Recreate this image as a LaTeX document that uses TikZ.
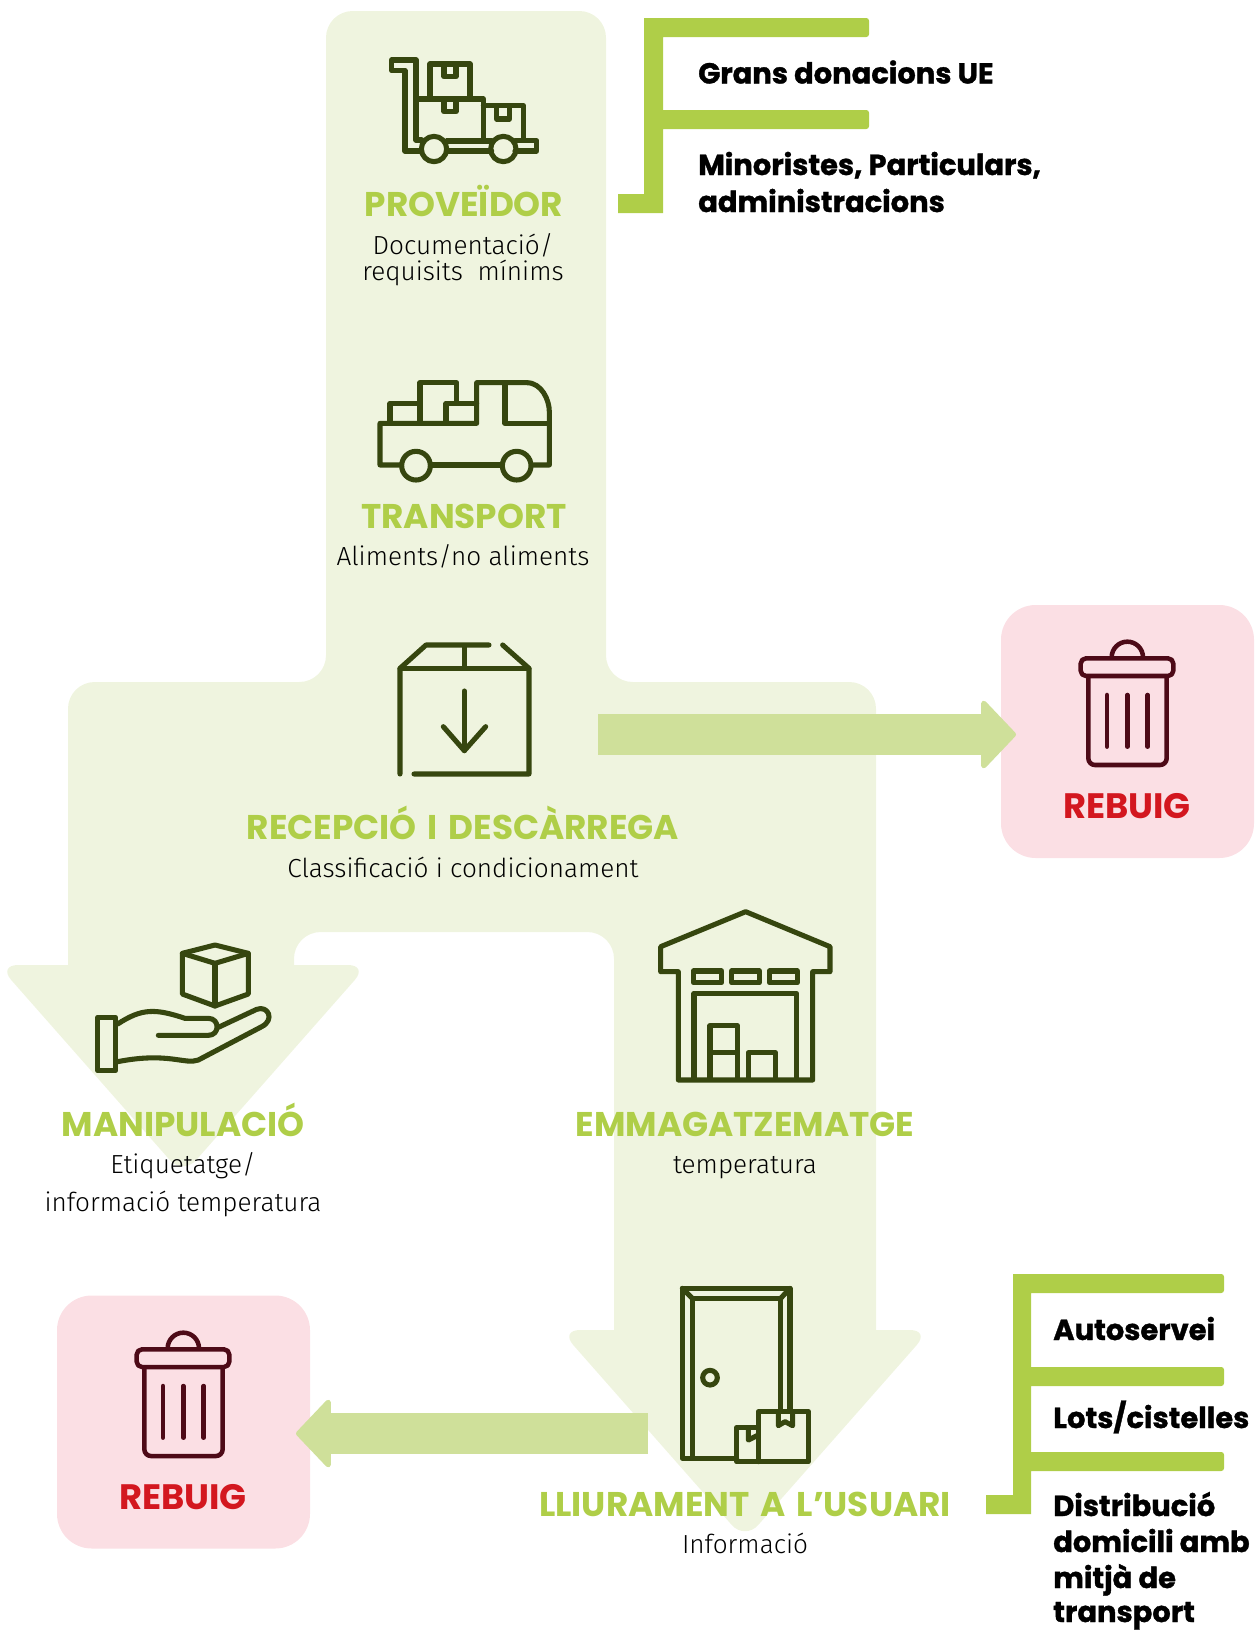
\documentclass[tikz,border=0pt]{standalone}
\usepackage{fontspec}
\usepackage{tikz}
\usetikzlibrary{arrows.meta}
\newfontfamily\titlefont{Poppins}[BoldFont=* Bold,WordSpace=1.5]
\newfontfamily\heavyfont{Poppins}[BoldFont=* Bold,BoldFeatures={FakeBold=1.2}]
\newfontfamily\thinfont{Fira Sans}[UprightFont=* Light]
\definecolor{palegreen}{HTML}{EFF4DF}
\definecolor{midgreen}{HTML}{CFE09A}
\definecolor{limegreen}{HTML}{AFCE48}
\definecolor{icondark}{HTML}{36460F}
\definecolor{pinkbg}{HTML}{FBDFE4}
\definecolor{rejectred}{HTML}{D3171F}
\definecolor{bindark}{HTML}{4D0A17}
\tikzset{
  title/.style={anchor=base,inner sep=0pt,text=limegreen,font=\titlefont\bfseries\fontsize{25.7}{25.7}\selectfont},
  note/.style={anchor=base,inner sep=0pt,text=black,font=\thinfont\fontsize{19.6}{19.6}\selectfont},
  rebuig/.style={anchor=base,inner sep=0pt,text=rejectred,font=\titlefont\bfseries\fontsize{26.5}{26.5}\selectfont},
  channel/.style={anchor=base west,inner sep=0pt,text=black,font=\heavyfont\bfseries\fontsize{21.7}{21.7}\selectfont},
  pinkbox/.style={fill=pinkbg,minimum width=189.75pt,minimum height=189.75pt,rounded corners=26pt,inner sep=0pt},
  flow/.style={draw=midgreen,line width=30.75pt,-{Triangle[length=27pt,width=56pt,round,line width=4pt]}},
  icon/.style={x=.25pt,y=-.25pt,draw=icondark,line width=3.8pt,line join=round,line cap=round},
  binicon/.style={x=.25pt,y=-.25pt,draw=bindark,line width=3.4pt,line join=round,line cap=round}
}
\newcommand{\trashbin}[2]{
\begin{scope}[shift={(#1,#2)},binicon]
\draw [rounded corners=4pt] (62,85) rectangle (340,138);
\draw (155,82) arc (180:360:47);
\draw [rounded corners=5pt] (85,140) -- (85,405) -- (320,405) -- (320,140);
\draw (141,195) -- (141,350);
\draw (202,195) -- (202,350);
\draw (263,195) -- (263,350);
\end{scope}
}
\begin{document}
\begin{tikzpicture}[x=.75pt,y=-.75pt]
\useasboundingbox (0,0) rectangle (1255,1632);
% background flow
\fill [palegreen] (326,300) [rounded corners=20pt] -- (326,11) -- (606,11) -- (606,682) -- (876,682) [sharp corners] -- (876,1330)
  [rounded corners=15pt] -- (930,1330) -- (745,1540) -- (560,1330) [sharp corners] -- (614,1330)
  [rounded corners=20pt] -- (614,932) -- (294,932) [sharp corners] -- (294,965)
  [rounded corners=15pt] -- (368,965) -- (183,1175) -- (-2,965) [sharp corners] -- (68,965)
  [rounded corners=20pt] -- (68,682) -- (326,682) [sharp corners] -- cycle;
% rejection boxes
\node [pinkbox] (rebuigright) at (1127.5,731.5) {};
\node [pinkbox] (rebuigleft) at (183.5,1422) {};
\coordinate (rightstart) at (598,734.5);
\coordinate (righttip) at (1016,734.5);
\coordinate (leftstart) at (648,1433.5);
\coordinate (lefttip) at (296,1433.5);
\draw [flow] (rightstart) -- (righttip);
\draw [flow] (leftstart) -- (lefttip);
% brackets
\fill [limegreen] (644,18) [rounded corners=2pt] -- (869,18) -- (869,37) [sharp corners] -- (663,37) -- (663,110) [rounded corners=2pt] -- (869,110) -- (869,129) [sharp corners] -- (663,129) -- (663,213) -- (618,213) -- (618,194) -- (644,194) -- cycle;
\fill [limegreen] (1013,1274) [rounded corners=2pt] -- (1224,1274) -- (1224,1293) [sharp corners] -- (1031,1293) -- (1031,1367) [rounded corners=2pt] -- (1224,1367) -- (1224,1386) [sharp corners] -- (1031,1386) -- (1031,1452) [rounded corners=2pt] -- (1224,1452) -- (1224,1471) [sharp corners] -- (1031,1471) -- (1031,1514) -- (986,1514) -- (986,1495) -- (1013,1495) -- cycle;
% cart
\begin{scope}[shift={(380,50)},icon]
\draw (75,62) -- (35,62) -- (35,30) -- (108,30) -- (108,270) -- (125,270);
\draw (75,62) -- (75,303) -- (125,303);
\draw (200,273) -- (335,273);
\draw (200,303) -- (335,303);
\draw (405,272) -- (470,272) -- (470,303) -- (405,303);
\draw (162,297) circle [radius=38];
\draw (370,297) circle [radius=38];
\draw (150,140) -- (150,42) -- (270,42) -- (270,145);
\draw (192,48) -- (192,80) -- (228,80) -- (228,48);
\draw (108,147) -- (310,147) -- (310,265);
\draw (192,150) -- (192,185) -- (228,185) -- (228,150);
\draw (310,167) -- (430,167) -- (430,265);
\draw (350,172) -- (350,207) -- (388,207) -- (388,172);
\end{scope}
% truck
\begin{scope}[shift={(370,370)},icon]
\draw (90,285) -- (30,285) -- (30,160) -- (320,160) -- (320,38) -- (470,38) .. controls (515,38) and (538,90) .. (538,125) -- (538,285) -- (490,285);
\draw (185,285) -- (395,285);
\draw (138,287) circle [radius=43];
\draw (440,287) circle [radius=43];
\draw (60,155) -- (60,100) -- (150,100);
\draw (150,155) -- (150,38) -- (260,38) -- (260,100) -- (320,100);
\draw (228,155) -- (228,100) -- (260,100);
\draw (405,38) -- (405,160) -- (538,160);
\end{scope}
% box
\begin{scope}[shift={(390,630)},icon]
\draw (30,432) -- (30,115) -- (108,45) -- (297,45);
\draw (338,45) -- (417,115) -- (417,432) -- (72,432);
\draw (30,115) -- (417,115);
\draw (223,48) -- (223,112);
\draw (223,183) -- (223,362);
\draw (160,290) -- (223,362) -- (287,290);
\end{scope}
% hand
\begin{scope}[shift={(85,930)},icon]
\draw (292,70) -- (292,192) -- (390,228) -- (490,192) -- (490,70) -- (390,45) -- cycle;
\draw (292,70) -- (390,100) -- (490,70);
\draw (390,100) -- (390,228);
\draw (38,262) rectangle (92,422);
\draw (98,282) .. controls (170,235) and (210,235) .. (300,265) -- (370,265) .. controls (405,265) and (405,316) .. (370,316) -- (220,316);
\draw (400,292) -- (515,238) .. controls (550,225) and (570,270) .. (530,290) -- (340,390) .. controls (300,405) and (250,365) .. (98,395);
\end{scope}
% warehouse
\begin{scope}[shift={(650,900)},icon]
\draw (32,215) -- (32,140) -- (287,35) -- (540,140) -- (540,215) -- (488,215) -- (488,540) -- (85,540) -- (85,215) -- cycle;
\draw (130,213) rectangle (215,248);
\draw (245,213) rectangle (328,248);
\draw (358,213) rectangle (442,248);
\draw (132,535) -- (132,280) -- (440,280) -- (440,535);
\draw (180,535) -- (180,377) -- (262,377) -- (262,535);
\draw (180,458) -- (262,458);
\draw (295,535) -- (295,458) -- (376,458) -- (376,535);
\end{scope}
% door
\begin{scope}[shift={(670,1275)},icon]
\draw (360,405) -- (360,40) -- (37,40) -- (37,550) -- (200,550);
\draw (67,550) -- (67,70) -- (332,70) -- (332,405);
\draw (37,40) -- (67,70);
\draw (360,40) -- (332,70);
\draw (120,308) circle [radius=22];
\draw (265,560) -- (265,410) -- (415,410) -- (415,560) -- (200,560) -- (200,458) -- (265,458);
\draw (325,415) -- (325,452) -- (345,440) -- (368,452) -- (368,415);
\draw (235,462) -- (235,495) -- (265,480);
\end{scope}
\trashbin{1060}{630}
\trashbin{116}{1321}
% texts
\node [title] (proveidor) at (464,216) {PROVEÏDOR};
\node [note] (docs) at (463,254.5) {Documentació/};
\node [note] (requisits) at (463,280.5) {requisits\ \ mínims};
\node [title] (transport) at (464,528) {TRANSPORT};
\node [note] (aliments) at (463,565.5) {Aliments/no aliments};
\node [title] (recepcio) at (463,839) {RECEPCIÓ I DESCÀRREGA};
\node [note] (classificacio) at (463,877) {Classificació i condicionament};
\node [rebuig] (rebuigtextright) at (1127,818) {REBUIG};
\node [title] (manipulacio) at (183,1136) {MANIPULACIÓ};
\node [note] (etiquetatge) at (183,1173) {Etiquetatge/};
\node [note] (informacio) at (183,1211) {informació temperatura};
\node [title] (emmagatzematge) at (745,1136) {EMMAGATZEMATGE};
\node [note] (temperatura) at (745,1173) {temperatura};
\node [title] (lliurament) at (745,1516) {LLIURAMENT A L’USUARI};
\node [note] (info) at (745,1553) {Informació};
\node [rebuig] (rebuigtextleft) at (183,1509) {REBUIG};
\node [channel] (grans) at (698,83.5) {Grans donacions UE};
\node [channel] (minoristes) at (698,175) {Minoristes, Particulars,};
\node [channel] (admin) at (698,212) {administracions};
\node [channel] (autoservei) at (1053,1340) {Autoservei};
\node [channel] (lots) at (1053,1428) {Lots/cistelles};
\node [channel] (distribucio) at (1053,1516) {Distribució};
\node [channel] (domicili) at (1053,1552) {domicili amb};
\node [channel] (mitja) at (1053,1588) {mitjà de};
\node [channel] (transporttext) at (1053,1622) {transport};
\end{tikzpicture}
\end{document}
